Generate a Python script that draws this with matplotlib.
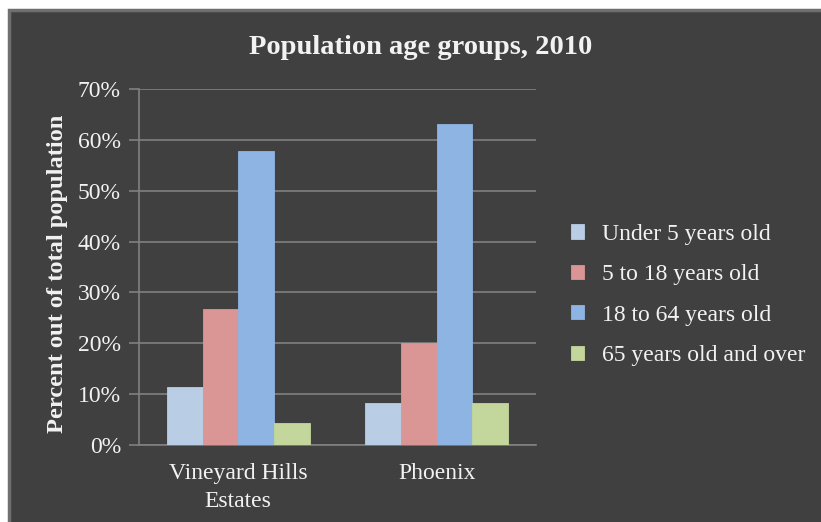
import matplotlib
matplotlib.use("Agg")
import matplotlib.pyplot as plt
import numpy as np
from matplotlib.patches import Rectangle
from matplotlib.ticker import MultipleLocator, PercentFormatter

places = ["Vineyard Hills\nEstates", "Phoenix"]
groups = ["Under 5 years old", "5 to 18 years old", "18 to 64 years old", "65 years old and over"]
under5 = [11.4, 8.3]
age5_18 = [26.7, 20.0]
age18_64 = [57.9, 63.2]
over65 = [4.3, 8.3]
colors = ["#b9cde5", "#d99694", "#8eb4e3", "#c3d69b"]

plt.rcParams["font.family"] = ["Liberation Serif", "DejaVu Serif"]
bg = "#404040"
txt = "#f2f2f2"
grid = "#808080"

fig = plt.figure(figsize=(8.21, 5.22), dpi=100, facecolor="white")
# chart area box with grey border, offset like the original screenshot
fig.patches.append(Rectangle((9 / 821, -0.01), 1.0, (522 - 10) / 522 + 0.01,
                             transform=fig.transFigure, facecolor=bg,
                             edgecolor="#6f6f6f", linewidth=2.5, zorder=-10))

ax = fig.add_axes([139 / 821, 77 / 522, (536 - 139) / 821, (445 - 89) / 522])
ax.set_facecolor(bg)

x = np.arange(len(places))
w = 0.18
series = [under5, age5_18, age18_64, over65]
for i, (vals, c, lab) in enumerate(zip(series, colors, groups)):
    ax.bar(x + (i - 1.5) * w, vals, w, color=c, label=lab, zorder=3,
           edgecolor=c, linewidth=0.6)

ax.set_xlim(-0.5, 1.5)
ax.set_ylim(0, 70)
ax.yaxis.set_major_locator(MultipleLocator(10))
ax.yaxis.set_major_formatter(PercentFormatter(decimals=0))
ax.grid(True, axis="y", color=grid, linewidth=1.2, zorder=1)
ax.set_xticks(x)
ax.set_xticklabels(places, fontsize=17, color=txt, linespacing=1.45)
ax.tick_params(axis="x", length=0, pad=13)
ax.tick_params(axis="y", labelsize=17, labelcolor=txt, color=grid, length=7, width=1.2, pad=6)
for s in ["top", "right"]:
    ax.spines[s].set_visible(False)
ax.spines["left"].set_color(grid)
ax.spines["left"].set_linewidth(1.2)
ax.spines["bottom"].set_color(grid)
ax.spines["bottom"].set_linewidth(1.2)

ax.set_ylabel("Percent out of total population", fontsize=17.6, fontweight="bold",
              color=txt)
ax.yaxis.set_label_coords(-0.178, 0.48)
fig.suptitle("Population age groups, 2010", fontsize=20.5, fontweight="bold",
             color=txt, x=421 / 821, y=1 - 47 / 522, va="center")

leg = fig.legend(loc="center left", bbox_to_anchor=(571 / 821, (522 - 295) / 522),
                 frameon=False, fontsize=17, labelcolor=txt, handlelength=0.55,
                 handleheight=0.55, handletextpad=0.75, labelspacing=0.82,
                 borderpad=0, borderaxespad=0)

fig.savefig("out.png", dpi=100, facecolor="white")
